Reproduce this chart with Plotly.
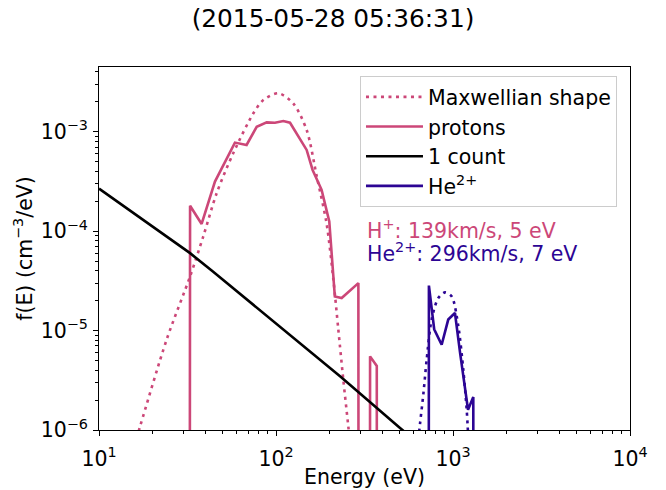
import numpy as np
import plotly.graph_objects as go

# ---------------- data ----------------
# proton measured distribution (0 = no counts)
protons_E = [29.5, 32.7, 38.0, 45.2, 58.6, 68.2, 77.8, 88.6, 98.6, 110, 120,
             149, 161, 181, 200, 215, 235, 292, 315, 340, 371, 400]
protons_f = [0, 1.8e-4, 1.18e-4, 3.15e-4, 7.76e-4, 7.35e-4, 1.12e-3, 1.24e-3,
             1.23e-3, 1.28e-3, 1.23e-3, 6.55e-4, 4.12e-4, 2.6e-4, 1.25e-4,
             2.2e-5, 2.12e-5, 3.0e-5, 0, 5.5e-6, 4.4e-6, 0]

# proton Maxwellian shape
maxH_E = [15, 17.1, 24.1, 32.7, 38.8, 46.2, 57.4, 74.5, 84.8, 103, 125,
          149, 170, 193, 211, 225, 240, 256, 270]
maxH_f = [5e-7, 1.1e-6, 8.1e-6, 3.5e-5, 8.8e-5, 2.4e-4, 6.1e-4, 1.53e-3,
          2.08e-3, 2.43e-3, 1.93e-3, 1.04e-3, 3.53e-4, 1.2e-4, 3.24e-5,
          1.02e-5, 3.2e-6, 1.1e-6, 4.5e-7]

# one-count level
count_E = [10, 20, 32.7, 44, 100, 230, 502, 700]
count_f = [2.67e-4, 1.12e-4, 6.0e-5, 3.93e-5, 1.18e-5, 3.47e-6, 1.05e-6, 6.3e-7]

# He2+ measured distribution
he_E = [680, 731, 783, 863, 940, 1026, 1096, 1216, 1302, 1400]
he_f = [0, 2.83e-5, 1.03e-5, 7.2e-6, 1.29e-5, 1.5e-5, 6.0e-6, 1.6e-6, 2.15e-6, 0]

# He2+ Maxwellian shape
maxHe_E = [630, 652, 681, 710, 757, 826, 902, 984, 1072, 1144, 1195, 1210, 1230]
maxHe_f = [6.8e-7, 1.18e-6, 2.36e-6, 5.1e-6, 1.29e-5, 2.12e-5, 2.42e-5, 2.2e-5,
           1.1e-5, 4.0e-6, 1.6e-6, 1.1e-6, 6e-7]

x_tickvals = [10, 100, 1000, 10000]
x_ticktext = ["10<sup>1</sup>", "10<sup>2</sup>", "10<sup>3</sup>", "10<sup>4</sup>"]
y_tickvals = [1e-6, 1e-5, 1e-4, 1e-3]
y_ticktext = ["10<sup>−6</sup>", "10<sup>−5</sup>", "10<sup>−4</sup>", "10<sup>−3</sup>"]

title_text = "(2015-05-28 05:36:31)"
h_label = "H<sup>+</sup>: 139km/s, 5 eV"
he_label = "He<sup>2+</sup>: 296km/s, 7 eV"

# ---------------- styling ----------------
PINK = "#cc4778"
BLUE = "#2c0594"
FONT = "DejaVu Sans"
FS = 20.5
LW = 2.6
DOT = "3px,4.5px"
FLOOR = 1e-100  # zero counts drawn straight down, as on a log axis


def floor0(v):
    v = np.asarray(v, dtype=float)
    return np.where(v > 0, v, FLOOR)


fig = go.Figure()

fig.add_trace(go.Scatter(x=maxH_E, y=maxH_f, mode="lines", name="Maxwellian shape",
                         legendgroup="a",
                         line=dict(color=PINK, width=LW, dash=DOT,
                                   shape="spline", smoothing=0.8)))
fig.add_trace(go.Scatter(x=protons_E, y=floor0(protons_f), mode="lines", name="protons",
                         legendgroup="b", line=dict(color=PINK, width=LW)))
fig.add_trace(go.Scatter(x=count_E, y=count_f, mode="lines", name="1 count",
                         legendgroup="c", line=dict(color="black", width=LW)))
fig.add_trace(go.Scatter(x=he_E, y=floor0(he_f), mode="lines", name="He<sup>2+</sup>",
                         legendgroup="d", line=dict(color=BLUE, width=LW)))
fig.add_trace(go.Scatter(x=maxHe_E, y=maxHe_f, mode="lines", showlegend=False,
                         legendgroup="e",
                         line=dict(color=BLUE, width=LW, dash=DOT,
                                   shape="spline", smoothing=0.8)))

axis_common = dict(
    type="log", showline=True, linecolor="black", linewidth=1, mirror=True,
    ticks="outside", ticklen=5, tickwidth=1, tickcolor="black",
    showgrid=False, zeroline=False, tickmode="array", automargin=False,
    tickfont=dict(family=FONT, size=FS, color="black"),
    minor=dict(ticks="outside", ticklen=3, tickwidth=1, tickcolor="black",
               dtick="D1", showgrid=False),
)

fig.update_xaxes(**axis_common, range=[1, 4], tickvals=x_tickvals, ticktext=x_ticktext,
                 ticklabelstandoff=5,
                 title=dict(text="Energy (eV)", font=dict(family=FONT, size=FS, color="black"),
                            standoff=0))
fig.update_yaxes(**axis_common, range=[-6, -2.35], tickvals=y_tickvals, ticktext=y_ticktext,
                 ticklabelstandoff=1,
                 title=dict(text="f(E) (cm<sup>−3</sup>/eV)",
                            font=dict(family=FONT, size=FS, color="black"), standoff=2))

fig.add_annotation(xref="paper", yref="paper", x=0.501, y=0.5516, xanchor="left",
                   yanchor="middle", text=h_label, showarrow=False,
                   font=dict(family=FONT, size=FS, color=PINK))
fig.add_annotation(xref="paper", yref="paper", x=0.501, y=0.488, xanchor="left",
                   yanchor="middle", text=he_label, showarrow=False,
                   font=dict(family=FONT, size=FS, color=BLUE))

fig.update_layout(
    width=666, height=490,
    margin=dict(l=99, r=36, t=67, b=59.5, autoexpand=False),
    paper_bgcolor="white", plot_bgcolor="white",
    font=dict(family=FONT, size=FS, color="black"),
    title=dict(text=title_text, x=0.5, xanchor="center", xref="container",
               y=1 - 18.5 / 490, yref="container", yanchor="middle",
               font=dict(family=FONT, size=24.8, color="black")),
    legend=dict(x=0.4915, y=0.975, xanchor="left", yanchor="top",
                bgcolor="rgba(255,255,255,0.8)", bordercolor="#cccccc", borderwidth=1,
                font=dict(family=FONT, size=FS, color="black"),
                itemwidth=57, tracegroupgap=0),
)

fig.write_html("out.html")
